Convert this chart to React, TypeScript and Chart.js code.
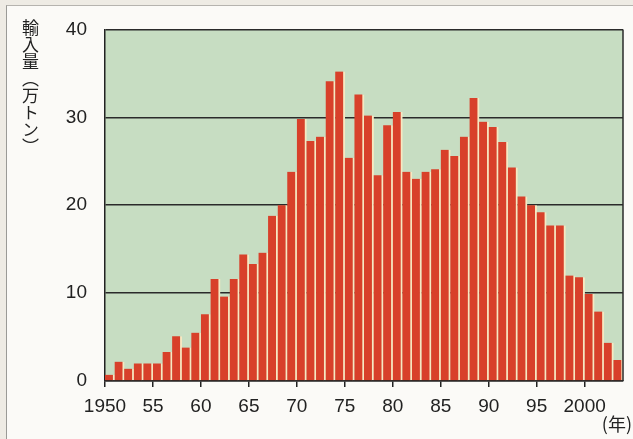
import React, { useEffect, useRef } from "react";
import { Chart, registerables } from "chart.js";

Chart.register(...registerables);

const years: number[] = [
  1950, 1951, 1952, 1953, 1954, 1955, 1956, 1957, 1958, 1959,
  1960, 1961, 1962, 1963, 1964, 1965, 1966, 1967, 1968, 1969,
  1970, 1971, 1972, 1973, 1974, 1975, 1976, 1977, 1978, 1979,
  1980, 1981, 1982, 1983, 1984, 1985, 1986, 1987, 1988, 1989,
  1990, 1991, 1992, 1993, 1994, 1995, 1996, 1997, 1998, 1999,
  2000, 2001, 2002, 2003,
];

const imports: number[] = [
  0.7, 2.2, 1.4, 2.0, 2.0, 2.0, 3.3, 5.1, 3.8, 5.5,
  7.6, 11.6, 9.6, 11.6, 14.4, 13.3, 14.6, 18.8, 20.0, 23.8,
  29.8, 27.3, 27.8, 34.1, 35.2, 25.4, 32.6, 30.2, 23.4, 29.1,
  30.6, 23.8, 23.0, 23.8, 24.1, 26.3, 25.6, 27.8, 32.2, 29.5,
  28.9, 27.2, 24.3, 21.0, 20.0, 19.2, 17.7, 17.7, 12.0, 11.8,
  9.9, 7.9, 4.35, 2.4,
];

const yTicks: number[] = [0, 10, 20, 30, 40];
const yTitle = "輸入量（万トン）";
const xUnit = "(年)";

const FONT = "'Liberation Sans', Arial, Helvetica, sans-serif";

const plotBg = {
  id: "plotBg",
  beforeDraw(chart: any) {
    const { ctx, chartArea } = chart;
    ctx.save();
    ctx.fillStyle = "#c7ddc2";
    ctx.fillRect(chartArea.left, chartArea.top, chartArea.right - chartArea.left, chartArea.bottom - chartArea.top);
    ctx.restore();
  },
  afterDraw(chart: any) {
    const { ctx, chartArea } = chart;
    ctx.save();
    ctx.strokeStyle = "#2a2a2a";
    ctx.lineWidth = 1.5;
    ctx.beginPath();
    ctx.moveTo(chartArea.right, chartArea.top);
    ctx.lineTo(chartArea.right, chartArea.bottom);
    ctx.stroke();
    ctx.restore();
  },
};

export default function App() {
  const ref = useRef<HTMLCanvasElement | null>(null);

  useEffect(() => {
    document.body.style.margin = "0";
    if (!ref.current) return;
    const chart = new Chart(ref.current, {
      type: "bar",
      data: {
        datasets: [
          {
            data: years.map((y, i) => ({ x: y + 0.5, y: imports[i] })),
            backgroundColor: "#d8402a",
            borderColor: "#f6e8c2",
            borderWidth: { left: 0, right: 2, top: 0, bottom: 0 },
            borderSkipped: false,
            barPercentage: 1,
            categoryPercentage: 1,
          } as any,
        ],
      },
      plugins: [plotBg],
      options: {
        animation: false,
        responsive: true,
        maintainAspectRatio: false,
        layout: { padding: { left: 0, right: 10, top: 25, bottom: 0 } },
        plugins: { legend: { display: false }, tooltip: { enabled: false } },
        scales: {
          x: {
            type: "linear",
            min: 1950,
            max: 2004,
            offset: false,
            grid: { display: true, drawOnChartArea: false, offset: false, tickLength: 6, color: "#222", lineWidth: 1.5 },
            border: { display: true, color: "#222", width: 1.5 },
            ticks: {
              stepSize: 5,
              includeBounds: false,
              autoSkip: false,
              maxRotation: 0,
              padding: 8,
              color: "#222",
              font: { family: FONT, size: 19 },
              callback: (v: any) => {
                const n = Number(v);
                if (n === 1950 || n === 2000) return String(n);
                return String(n % 100).padStart(2, "0");
              },
            },
            afterFit: (s: any) => {
              s.height = 58;
            },
          },
          y: {
            min: 0,
            max: 40,
            afterBuildTicks: (s: any) => {
              s.ticks = yTicks.map((v) => ({ value: v }));
            },
            grid: { color: "#2a2a2a", lineWidth: 1.5, drawTicks: false },
            border: { display: true, color: "#222", width: 1.5 },
            ticks: {
              padding: 18,
              color: "#222",
              font: { family: FONT, size: 19 },
            },
            afterFit: (s: any) => {
              s.width = 105;
            },
          },
        },
      },
    });
    return () => chart.destroy();
  }, []);

  return (
    <div style={{ position: "relative", width: 633, height: 439, background: "#eeebe4", overflow: "hidden" }}>
      <div
        style={{
          position: "absolute",
          left: 6,
          top: 5,
          width: 640,
          height: 450,
          background: "#fbfaf7",
          borderLeft: "1px solid #9a9a96",
          borderTop: "1px solid #b5b3ae",
        }}
      />
      <div style={{ position: "absolute", left: 0, top: 0, width: 633, height: 439 }}>
        <canvas ref={ref} />
      </div>
      <div
        style={{
          position: "absolute",
          left: 20,
          top: 19,
          writingMode: "vertical-rl",
          fontFamily: "'Noto Sans CJK JP', sans-serif",
          fontSize: 17,
          lineHeight: "20px",
          color: "#222",
          letterSpacing: 0,
        }}
      >
        {yTitle}
      </div>
      <div
        style={{
          position: "absolute",
          right: 1,
          top: 410,
          fontFamily: "'Noto Sans CJK JP', sans-serif",
          fontSize: 18,
          color: "#222",
        }}
      >
        {xUnit}
      </div>
    </div>
  );
}
